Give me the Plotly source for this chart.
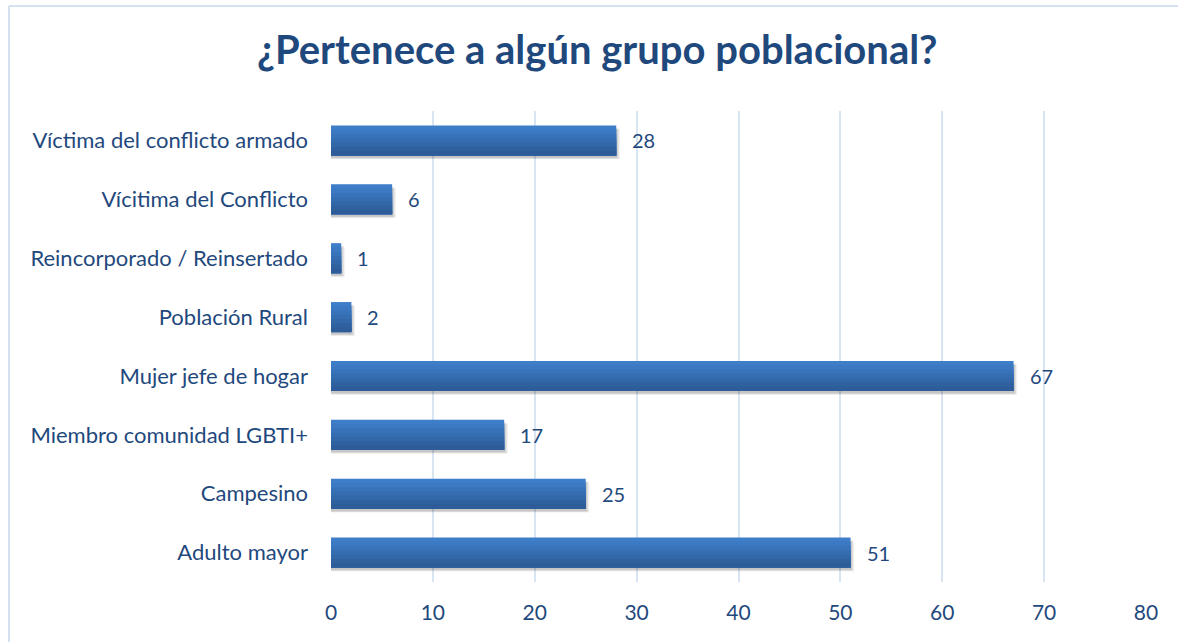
import plotly.graph_objects as go

categories = ["Víctima del conflicto armado", "Vícitima del Conflicto", "Reincorporado / Reinsertado",
              "Población Rural", "Mujer jefe de hogar", "Miembro comunidad LGBTI+",
              "Campesino", "Adulto mayor"]
values = [28, 6, 1, 2, 67, 17, 25, 51]
x_ticks = [0, 10, 20, 30, 40, 50, 60, 70, 80]

TXT = "#1F497D"
FONT = "Lato, sans-serif"
fig = go.Figure()

bar_w = 0.51
# soft drop shadow
for k, a in enumerate([0.06, 0.08, 0.10]):
    fig.add_trace(go.Bar(y=categories, x=[v + 0.12 * (3 - k) for v in values], orientation="h",
                         width=bar_w, offset=-bar_w/2 + 0.03 + 0.012 * (3 - k),
                         marker=dict(color=f"rgba(0,0,0,{a})", line=dict(width=0)),
                         hoverinfo="skip", showlegend=False))
# vertical gradient made from cumulative strips (top light -> bottom dark)
colors = ["#3E7EC9", "#3B79C2", "#3873BA", "#356DB1", "#3267A8", "#2F619F", "#2D5C98"]
n = len(colors)
h = bar_w / n
for i, c in enumerate(colors):
    fig.add_trace(go.Bar(y=categories, x=values, orientation="h", width=bar_w - i*h,
                         offset=-bar_w/2 + i*h,
                         marker=dict(color=c, line=dict(width=0)),
                         hoverinfo="skip", showlegend=False))

annotations = [dict(x=v, y=c, xref="x", yref="y", text=str(v), showarrow=False,
                    xanchor="left", yanchor="middle", xshift=14,
                    font=dict(size=20, color=TXT, family=FONT))
               for c, v in zip(categories, values)]

fig.update_layout(
    width=1178, height=642,
    barmode="overlay",
    paper_bgcolor="white", plot_bgcolor="white",
    margin=dict(l=331, r=32, t=111, b=60),
    title=dict(text="<b>¿Pertenece a algún grupo poblacional?</b>", x=0.507, xanchor="center",
               y=0.922, yanchor="middle",
               font=dict(size=40, color=TXT, family=FONT)),
    font=dict(family=FONT, color=TXT, size=20),
    xaxis=dict(range=[0, 80], tickvals=x_ticks, showgrid=True, gridcolor="#D9E4F3", gridwidth=2,
               zeroline=False, showline=False, ticks="", tickfont=dict(size=21, color=TXT),
               ticklabelstandoff=16, fixedrange=True),
    yaxis=dict(autorange="reversed", showgrid=False, ticks="", ticklabelstandoff=22,
               tickfont=dict(size=22, color=TXT), showline=False, fixedrange=True),
    annotations=annotations,
    shapes=[dict(type="line", xref="paper", yref="paper", x0=-322/815, x1=1.1, y0=1 + 105/471, y1=1 + 105/471,
                 line=dict(color="#D5E1F1", width=2), layer="below"),
            dict(type="line", xref="paper", yref="paper", x0=-322/815, x1=-322/815, y0=-0.2, y1=1 + 105/471,
                 line=dict(color="#D5E1F1", width=2), layer="below")],
)
fig.write_html("out.html", config={"displayModeBar": False},
               post_script="document.body.style.margin='0';")
